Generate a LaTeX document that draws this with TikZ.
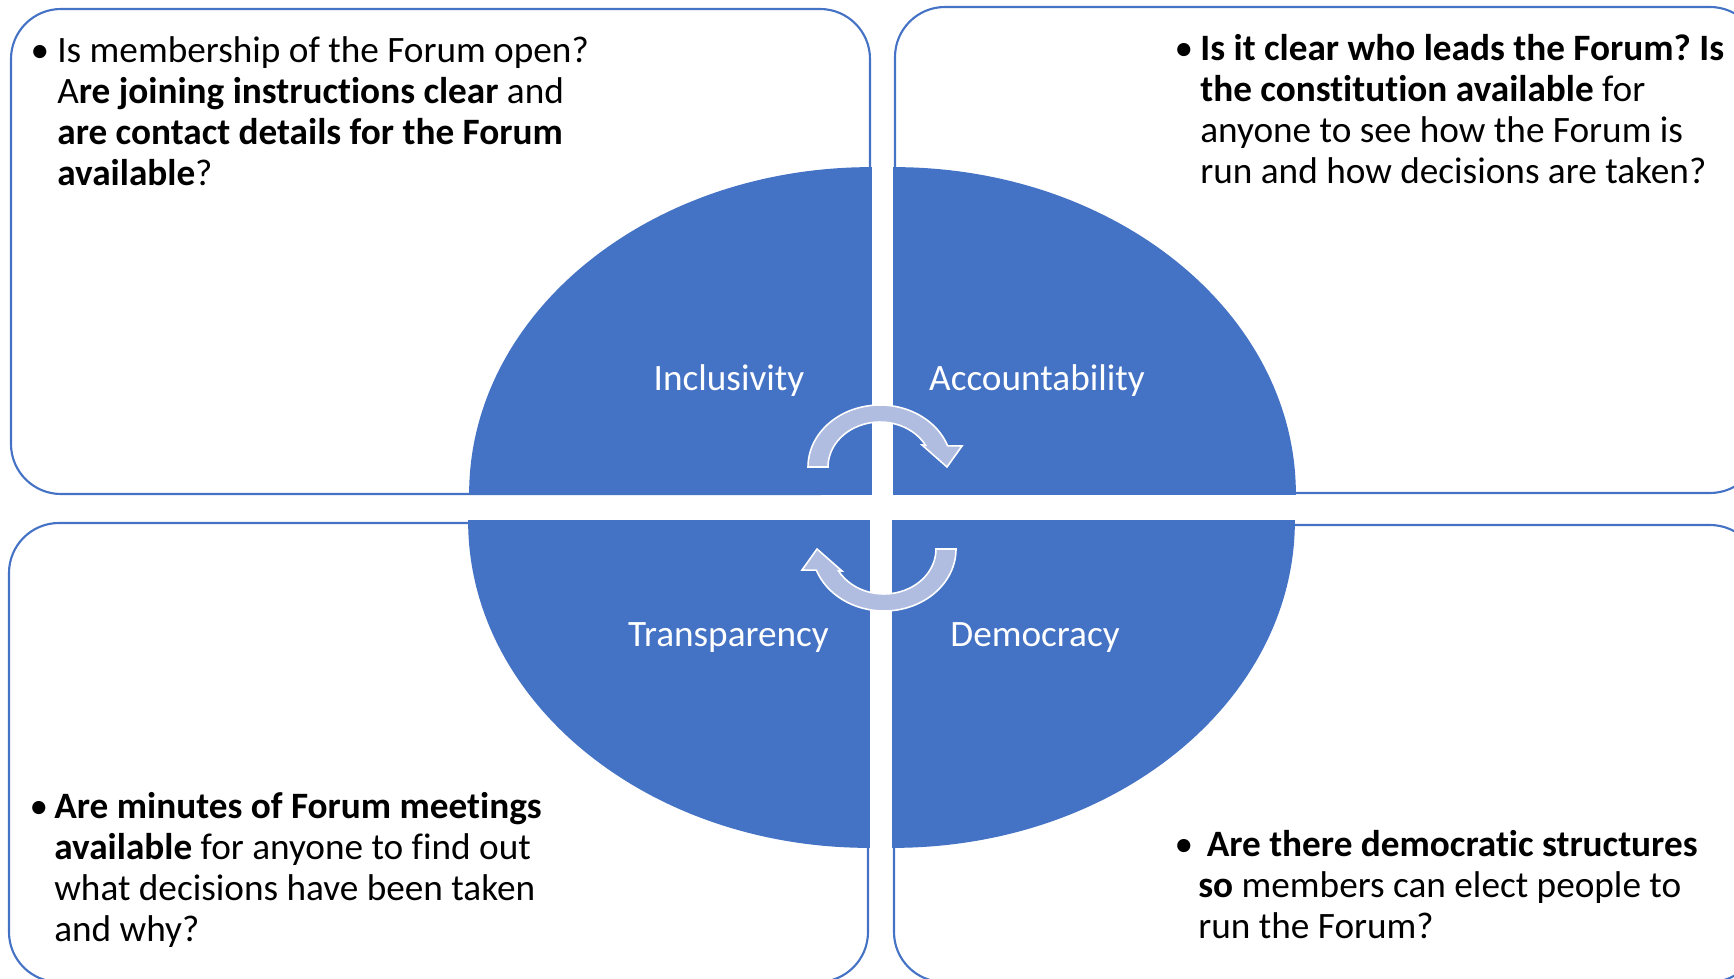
\documentclass[tikz,border=0pt]{standalone}
\usepackage{fontspec}
\setmainfont{Carlito}[Ligatures={NoCommon,NoContextual}, Contextuals=NoAlternate]
\usetikzlibrary{positioning}

\definecolor{forumblue}{HTML}{4472C4}
\definecolor{cyclelight}{HTML}{B0BDE0}
\newcommand{\qfont}{\fontsize{21.2}{23.3}\selectfont}
\frenchspacing

\begin{document}
\begin{tikzpicture}[x=0.02cm, y=0.02cm,
    qbox/.style={draw=forumblue, line width=1.2pt, rounded corners=1cm},
    quarter/.style={fill=forumblue, draw=forumblue, line width=1pt},
    qtext/.style={anchor=north west, inner sep=0pt, align=left, font=\qfont},
    bullet/.style={inner sep=0pt, font=\qfont},
    qlabel/.style={anchor=base, inner sep=0pt, text=white, font=\qfont},
    cyclearrow/.style={fill=cyclelight, draw=white, line width=0.9pt}]
    \useasboundingbox (0,0) rectangle (1734,978);
    \clip (0,0) rectangle (1734,978);

    % Question boxes
    \draw[qbox] (11,969) rectangle (870,484);
    \draw[qbox] (895,971) rectangle (1760,485);
    \draw[qbox] (9,455) rectangle (868,-4);
    \draw[qbox] (894,453) rectangle (1760,-4);

    % Ellipse quarters
    \draw[quarter] (871,484) -- (470,484) arc[start angle=180, end angle=90, x radius=401, y radius=326] -- cycle;
    \draw[quarter] (894,484) -- (1295,484) arc[start angle=0, end angle=90, x radius=401, y radius=326] -- cycle;
    \draw[quarter] (869,457) -- (469,457) arc[start angle=180, end angle=270, x radius=400, y radius=326] -- cycle;
    \draw[quarter] (893,457) -- (1294,457) arc[start angle=0, end angle=-90, x radius=401, y radius=326] -- cycle;

    % Cycle arrows
    \foreach \turn in {0,180}
        \draw[cyclearrow, rotate around={\turn:(882,470)}] (808,511) arc[start angle=180, end angle=20, x radius=72, y radius=62]
            -- (962,532) -- (947,511) -- (922,533) -- (925.5,532.8)
            arc[start angle=29, end angle=180, x radius=52, y radius=45] -- cycle;

    % Quarter labels
    \node[qlabel] (inclusivity) at (729,587) {Inclusivity};
    \node[qlabel] (accountability) at (1037,587) {Accountability};
    \node[qlabel] (transparency) at (728.5,332) {Transparency};
    \node[qlabel] (democracy) at (1035,332) {Democracy};

    % Inclusivity question
    \node[qtext] (inclq) at (57,944.7) {\strut Is membership of the Forum open?\\A\textbf{re joining instructions clear} and\\\textbf{are contact details for the Forum}\\\textbf{available}?};
    \node[bullet, left=0.34cm of inclq.north west, anchor=north] {\strut\textbullet};

    % Accountability question
    \node[qtext] (accountq) at (1200,946.7) {\strut\textbf{Is it clear who leads the Forum? Is}\\\textbf{the constitution available} for\\anyone to see how the Forum is\\run and how decisions are taken?};
    \node[bullet, left=0.32cm of accountq.north west, anchor=north] {\strut\textbullet};

    % Transparency question
    \node[qtext] (transq) at (54,188.7) {\strut\textbf{Are minutes of Forum meetings}\\\textbf{available} for anyone to find out\\what decisions have been taken\\and why?};
    \node[bullet, left=0.30cm of transq.north west, anchor=north] {\strut\textbullet};

    % Democracy question
    \node[qtext] (democq) at (1198,150.7) {\strut\ \textbf{Are there democratic structures}\\\textbf{so} members can elect people to\\run the Forum?};
    \node[bullet, left=0.28cm of democq.north west, anchor=north] {\strut\textbullet};
\end{tikzpicture}
\end{document}
